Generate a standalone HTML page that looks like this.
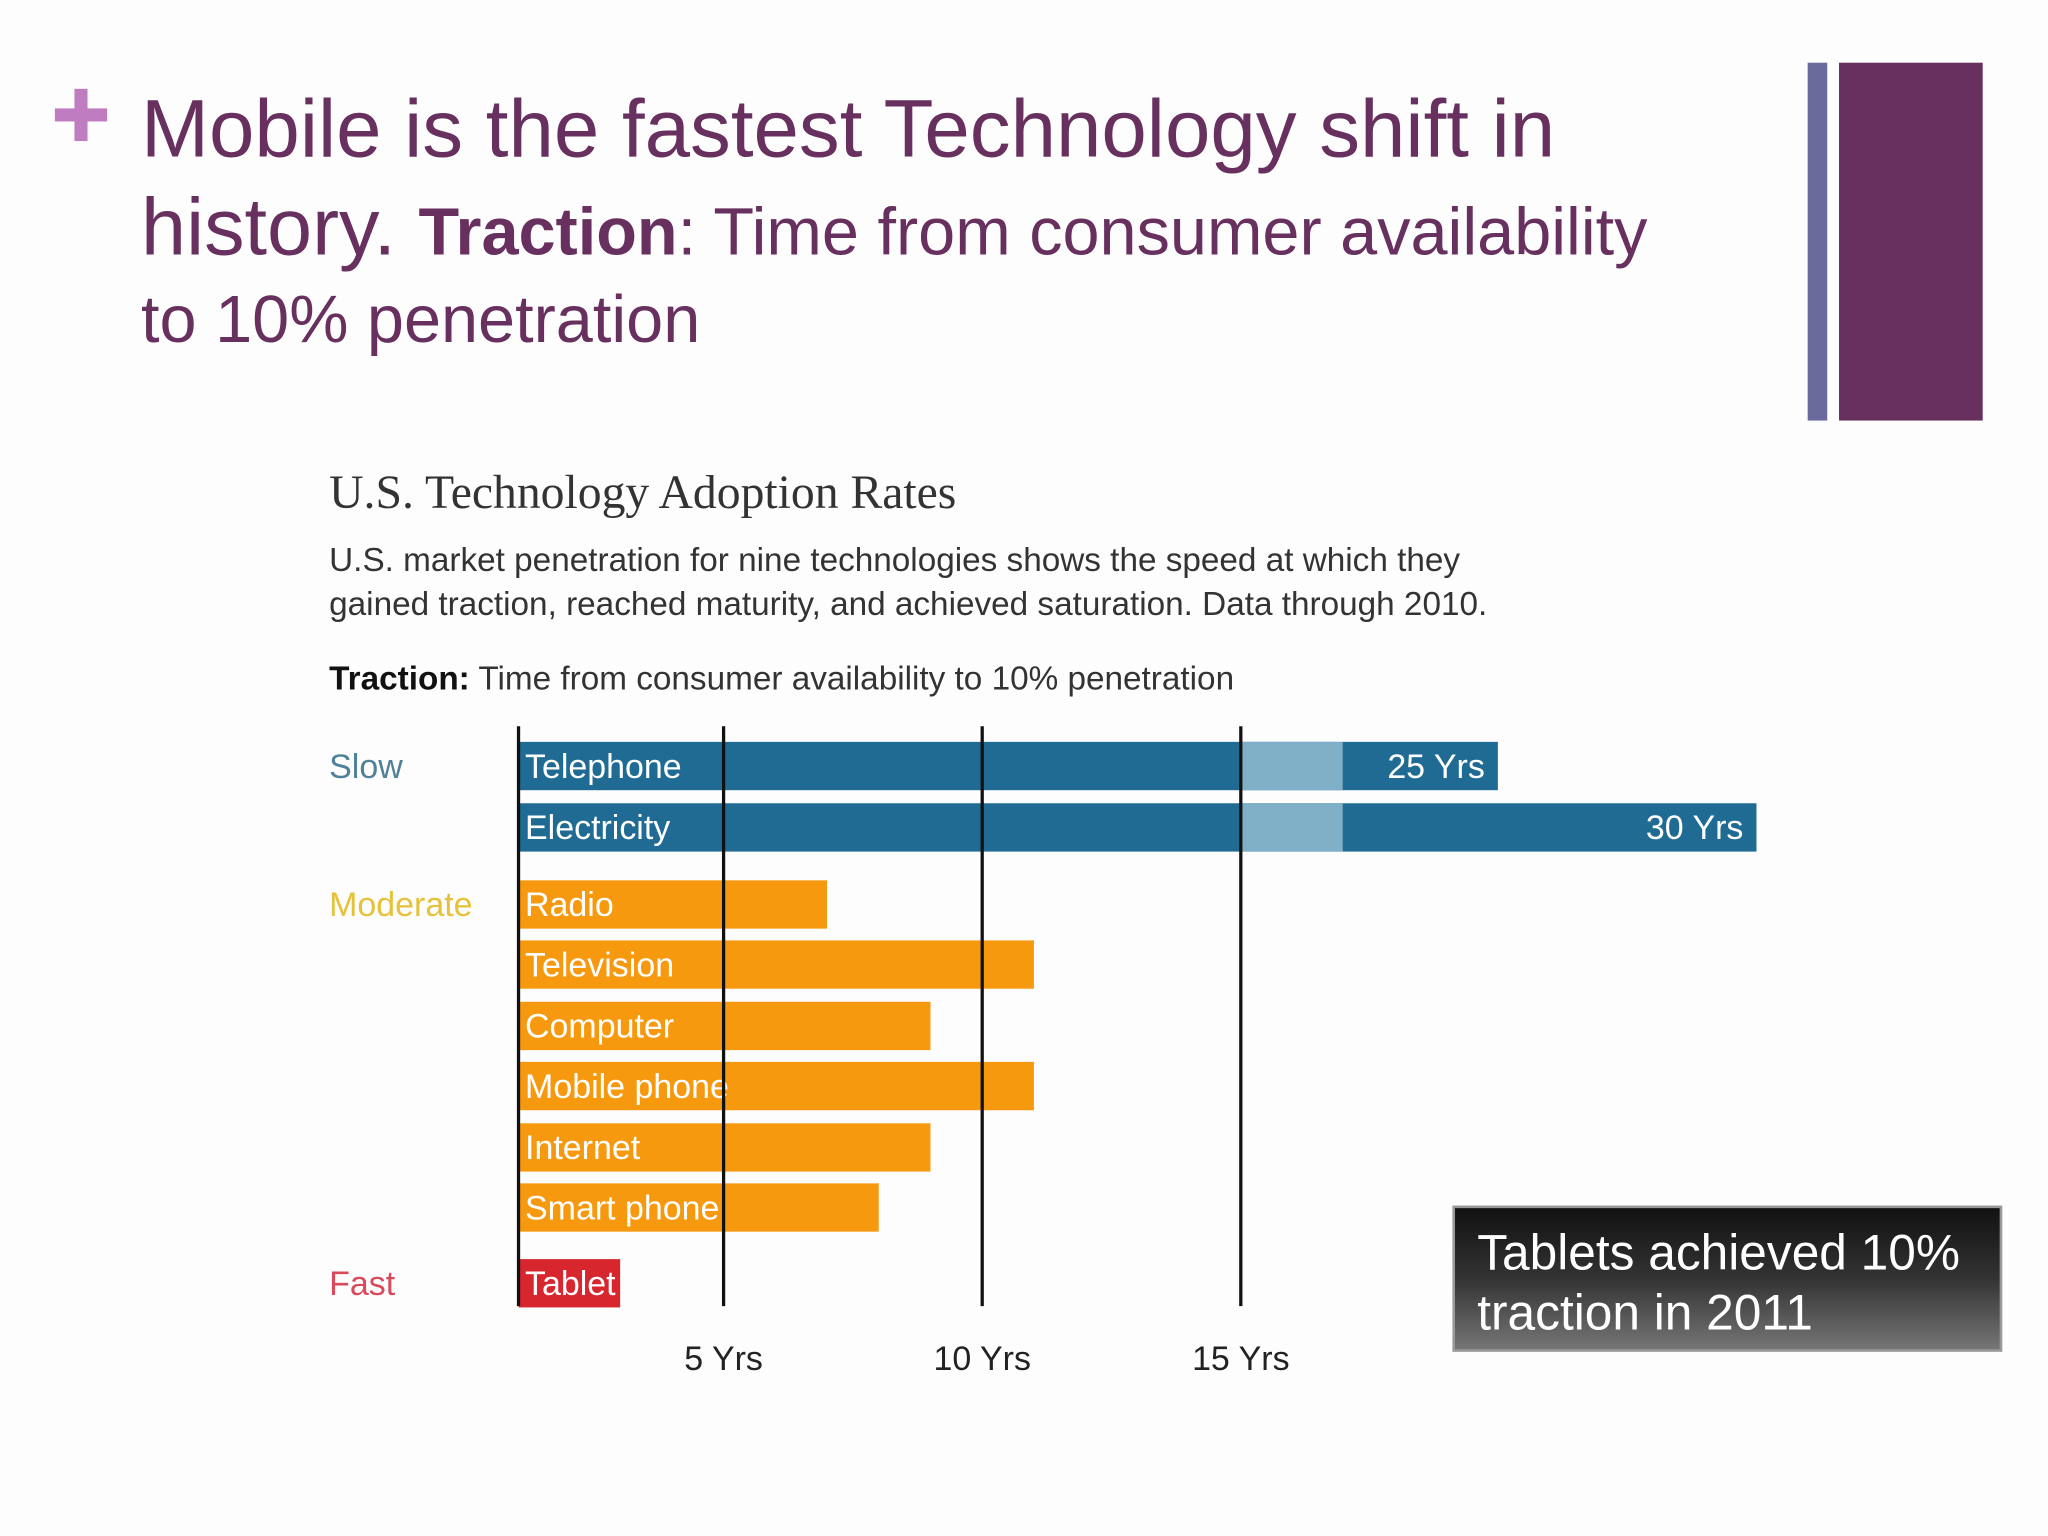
<!DOCTYPE html>
<html><head><meta charset="utf-8"><style>
html,body{margin:0;padding:0;background:#fff;}
svg{display:block;}
</style></head><body>
<svg width="2048" height="1536" viewBox="0 0 1568 1176" xmlns="http://www.w3.org/2000/svg" font-family="Liberation Sans, sans-serif">
<rect width="1568" height="1176" fill="#fefdfe"/>
<g fill="#c07cc0">
<rect x="57" y="68" width="10" height="40"/><rect x="42" y="83" width="40" height="10"/>
</g>
<rect x="1384" y="48" width="15" height="274" fill="#6a6a9c"/>
<rect x="1408" y="48" width="110" height="274" fill="#67305f"/>
<g fill="#67305f">
<text x="108" y="120" font-size="62.5">Mobile is the fastest Technology shift in</text>
<text x="108" y="195"><tspan font-size="62">history. </tspan><tspan font-size="51" font-weight="bold">Traction</tspan><tspan font-size="51">: Time from consumer availability</tspan></text>
<text x="108" y="262" font-size="51">to 10% penetration</text>
</g>
<text x="252" y="389" font-family="Liberation Serif, serif" font-size="36.5" fill="#333">U.S. Technology Adoption Rates</text>
<text x="252" y="437" font-size="25.5" fill="#333">U.S. market penetration for nine technologies shows the speed at which they</text>
<text x="252" y="471" font-size="25.5" fill="#333">gained traction, reached maturity, and achieved saturation. Data through 2010.</text>
<text x="252" y="528" font-size="25.5" fill="#333"><tspan font-weight="bold" fill="#111">Traction:</tspan> Time from consumer availability to 10% penetration</text>
<g id="chart"></g>
<g>
<defs><linearGradient id="cg" x1="0" y1="0" x2="0" y2="1"><stop offset="0" stop-color="#111"/><stop offset="0.5" stop-color="#333"/><stop offset="1" stop-color="#777"/></linearGradient></defs>
<rect x="1113" y="924" width="419" height="110" fill="url(#cg)" stroke="#999" stroke-width="2"/>
<text x="1131" y="972" font-size="38" fill="#fff">Tablets achieved 10%</text>
<text x="1131" y="1018" font-size="38" fill="#fff">traction in 2011</text>
</g>
</svg>
<script>
const categories = ["Telephone","Electricity","Radio","Television","Computer","Mobile phone","Internet","Smart phone","Tablet"];
const years = [25,30,7,11,9,11,9,8,3];
const groups = ["slow","slow","moderate","moderate","moderate","moderate","moderate","moderate","fast"];
const tickValues = [5,10,15];
const tickLabels = ["5 Yrs","10 Yrs","15 Yrs"];
const groupNames = ["Slow","Moderate","Fast"];
const groupFirstRow = [0,2,8];

const NS="http://www.w3.org/2000/svg";
const chart=document.getElementById('chart');
const origin=356, ppy=39.6, barStart=397;
function xScale(v){
  if(v<=15) return origin+v*ppy;
  if(v<=22) return origin+15*ppy+(v-15)*(78/7);
  return origin+15*ppy+78+(v-22)*ppy;
}
const rowY=[568,615,674,720,767,813,860,906,964];
const barH=37;
const colors={slow:"#1f6b94",moderate:"#f7990f",fast:"#d8262f"};
const labelColors={Slow:"#4f8199",Moderate:"#e6c13a",Fast:"#d84a5c"};
function el(tag,attrs,parent){const e=document.createElementNS(NS,tag);for(const k in attrs)e.setAttribute(k,attrs[k]);(parent||chart).appendChild(e);return e;}
categories.forEach((c,i)=>{
  const g=groups[i];
  const x1=xScale(years[i]);
  const r=el('rect',{x:barStart,y:rowY[i],width:Math.max(0,x1-barStart),height:barH,fill:colors[g]});
  
  
  if(years[i]>15){
    const b=el('rect',{x:xScale(15),y:rowY[i],width:xScale(Math.min(22,years[i]))-xScale(15),height:barH,fill:"#7fb0c8"});
    
    
    const t=el('text',{x:x1-10,y:rowY[i]+barH/2+9,'font-size':26,fill:"#fff",'text-anchor':'end'});
    t.textContent=years[i]+" Yrs";
    
    
  }
  const t=el('text',{x:402,y:rowY[i]+barH/2+9,'font-size':26,fill:"#fff"});
  t.textContent=c;
  
  
});
const baseLine=el('line',{x1:barStart,x2:barStart,y1:556,y2:1000,stroke:"#111",'stroke-width':2.5});


tickValues.forEach((v,i)=>{
  const x=xScale(v);
  const l=el('line',{x1:x,x2:x,y1:556,y2:1000,stroke:"#111",'stroke-width':2.5});
  
  
  const t=el('text',{x:x,y:1049,'font-size':26,fill:"#222",'text-anchor':'middle'});
  t.textContent=tickLabels[i];
  
  
});
groupNames.forEach((n,i)=>{
  const t=el('text',{x:252,y:rowY[groupFirstRow[i]]+barH/2+9,'font-size':26,fill:labelColors[n]});
  t.textContent=n;
  
  
});
</script>
</body></html>
